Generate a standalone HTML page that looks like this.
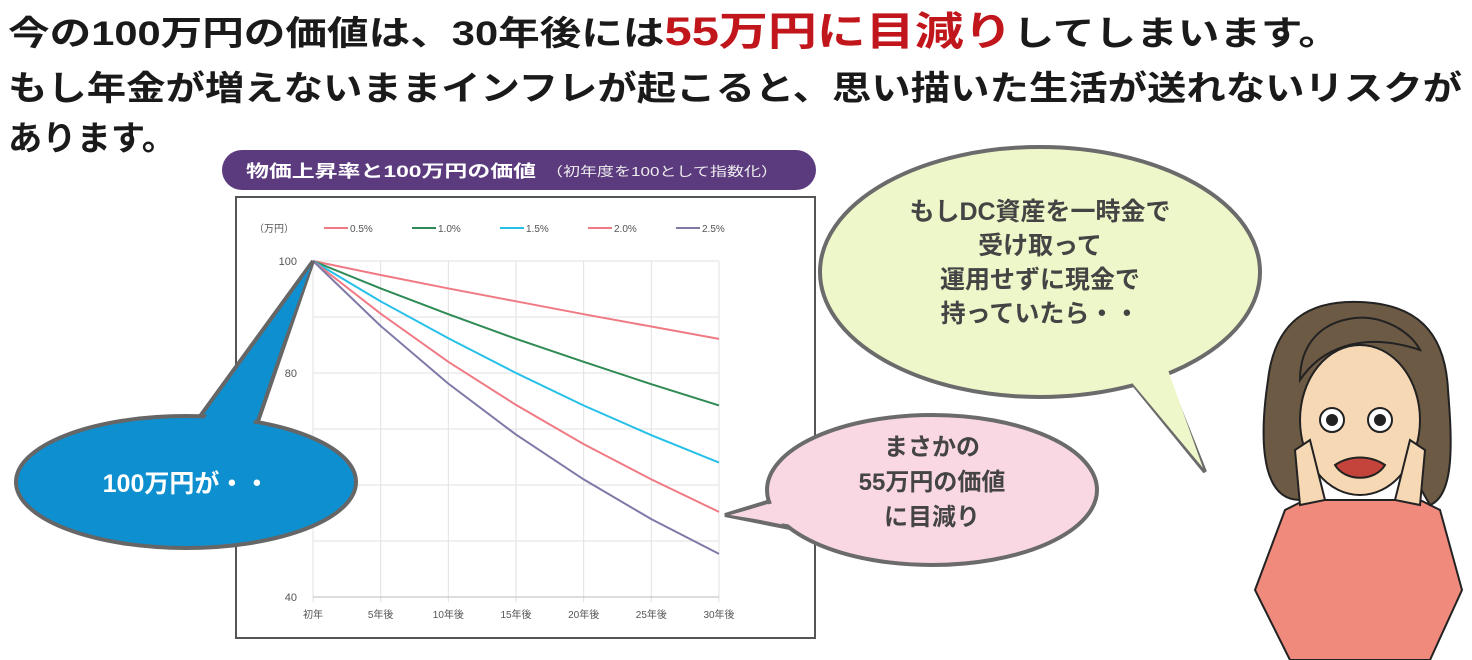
<!DOCTYPE html>
<html><head><meta charset="utf-8">
<style>
html,body{margin:0;padding:0;background:#fff;}
svg{display:block;font-family:"Liberation Sans","Noto Sans CJK JP",sans-serif;}
</style></head>
<body>
<svg id="root" width="1472" height="660" viewBox="0 0 1472 660" xmlns="http://www.w3.org/2000/svg">
  <g font-weight="bold" fill="#1a1a1a">
    <text x="8" y="45" font-size="34" textLength="1332" lengthAdjust="spacingAndGlyphs">今の100万円の価値は、30年後には<tspan fill="#c0161c" font-size="40">55万円に目減り</tspan>してしまいます。</text>
    <text x="8" y="100" font-size="34" textLength="1454" lengthAdjust="spacingAndGlyphs">もし年金が増えないままインフレが起こると、思い描いた生活が送れないリスクが</text>
    <text x="8" y="150" font-size="34" textLength="168" lengthAdjust="spacingAndGlyphs">あります。</text>
  </g>

  <g>
    <rect x="222" y="150" width="594" height="40" rx="20" fill="#5b3a7e"/>
    <text x="246" y="177" font-size="17" font-weight="bold" fill="#fff" textLength="290" lengthAdjust="spacingAndGlyphs">物価上昇率と100万円の価値</text>
    <text x="546" y="176" font-size="13" fill="#eee" textLength="232" lengthAdjust="spacingAndGlyphs">（初年度を100として指数化）</text>
  </g>
  <rect x="236" y="197" width="579" height="441" fill="#fff" stroke="#555" stroke-width="2"/>
  <g id="chart"></g>

  <!-- green bubble -->
  <g>
    <path d="M1130,380 L1205,472 L1165,372 Z" fill="#eef7c9" stroke="#6b6b6b" stroke-width="4"/>
    <ellipse cx="1040" cy="272" rx="220" ry="125" fill="#eef7c9" stroke="#6b6b6b" stroke-width="4"/>
    <path d="M1128,378 L1203,468 L1168,370 Z" fill="#eef7c9"/>
    <g font-size="25" font-weight="bold" fill="#444" text-anchor="middle">
      <text x="1040" y="220">もしDC資産を一時金で</text>
      <text x="1040" y="254">受け取って</text>
      <text x="1040" y="288">運用せずに現金で</text>
      <text x="1040" y="322">持っていたら・・</text>
    </g>
  </g>

  <!-- pink bubble -->
  <g>
    <path d="M790,495 L725,515 L800,530 Z" fill="#f9d8e4" stroke="#6b6b6b" stroke-width="4"/>
    <ellipse cx="932" cy="490" rx="165" ry="75" fill="#f9d8e4" stroke="#6b6b6b" stroke-width="4"/>
    <path d="M795,497 L730,515 L805,527 Z" fill="#f9d8e4"/>
    <g font-size="24" font-weight="bold" fill="#444" text-anchor="middle">
      <text x="932" y="455">まさかの</text>
      <text x="932" y="490">55万円の価値</text>
      <text x="932" y="525">に目減り</text>
    </g>
  </g>

  <!-- blue bubble -->
  <g>
    <path d="M190,430 L313,261 L255,430 Z" fill="#0e8fcf" stroke="#666" stroke-width="4"/>
    <ellipse cx="186" cy="482" rx="170" ry="66" fill="#0e8fcf" stroke="#666" stroke-width="4"/>
    <path d="M195,432 L311,266 L250,432 Z" fill="#0e8fcf"/>
    <text x="186" y="492" font-size="25" font-weight="bold" fill="#fff" text-anchor="middle">100万円が・・</text>
  </g>

  <!-- woman illustration -->
  <g stroke="#222" stroke-width="2">
    <path d="M1290,660 L1255,590 L1285,510 L1305,500 L1420,500 L1440,510 L1462,590 L1430,660 Z" fill="#ef8a7c"/>
    <path d="M1300,500 C1255,500 1262,420 1268,380 C1275,320 1310,300 1360,302 C1415,304 1445,330 1448,390 C1452,440 1455,495 1430,505 L1410,470 L1310,470 Z" fill="#6d5a45"/>
    <ellipse cx="1360" cy="420" rx="60" ry="75" fill="#f7d8b5"/>
    <path d="M1300,380 C1320,350 1360,330 1420,350 C1410,330 1380,315 1355,318 C1320,322 1300,345 1300,380 Z" fill="#6d5a45"/>
    <circle cx="1332" cy="420" r="12" fill="#fff"/><circle cx="1332" cy="420" r="5" fill="#222"/>
    <circle cx="1380" cy="420" r="12" fill="#fff"/><circle cx="1380" cy="420" r="5" fill="#222"/>
    <path d="M1335,465 C1350,455 1370,455 1385,465 C1375,482 1345,482 1335,465 Z" fill="#c4433a"/>
    <path d="M1310,440 L1325,500 L1300,505 L1295,450 Z" fill="#f7d8b5"/>
    <path d="M1410,440 L1395,500 L1420,505 L1425,450 Z" fill="#f7d8b5"/>
  </g>

<script>
const categories = ["初年","5年後","10年後","15年後","20年後","25年後","30年後"];
const seriesNames = ["0.5%","1.0%","1.5%","2.0%","2.5%"];
const seriesColors = ["#f07a84","#2f8a55","#27c0e8","#f07a84","#7e7aa8"];
const s05 = [100,97.5,95.1,92.8,90.5,88.3,86.1];
const s10 = [100,95.1,90.5,86.1,82.0,78.0,74.2];
const s15 = [100,92.8,86.2,80.0,74.2,68.9,64.0];
const s20 = [100,90.6,82.0,74.3,67.3,61.0,55.2];
const s25 = [100,88.4,78.1,69.0,61.0,53.9,47.7];
const yTicks = [40,50,60,70,80,90,100];
const yTickLabels = ["40","","","","80","","100"];

const NS="http://www.w3.org/2000/svg";
const g=document.getElementById('chart');
const X0=313,X1=719,Y0=597,Y1=261,YMIN=40,YMAX=100;
const xs=i=>X0+(X1-X0)*i/(categories.length-1);
const ys=v=>Y0-(v-YMIN)/(YMAX-YMIN)*(Y0-Y1);
function mk(t,a){const e=document.createElementNS(NS,t);for(const k in a)e.setAttribute(k,a[k]);g.appendChild(e);return e;}

yTicks.forEach((v,i)=>{
  const l=mk('line',{x1:X0,x2:X1,y1:ys(v),y2:ys(v),stroke:'#e2e2e2','stroke-width':1});
  
  
  const t=mk('text',{x:X0-16,y:ys(v)+4,'font-size':11,fill:'#555','text-anchor':'end'});
  t.textContent=yTickLabels[i];
  
  
});
categories.forEach((c,i)=>{
  const l=mk('line',{x1:xs(i),x2:xs(i),y1:Y1,y2:Y0+5,stroke:'#e2e2e2','stroke-width':1});
  
  
  const t=mk('text',{x:xs(i),y:Y0+21,'font-size':10,fill:'#555','text-anchor':'middle'});
  t.textContent=c;
  
  
});
const ax=mk('line',{x1:X0,x2:X1,y1:Y0,y2:Y0,stroke:'#bbb'});


const unit=mk('text',{x:254,y:232,'font-size':10,fill:'#555'});
unit.textContent='（万円）';



const all=[s05,s10,s15,s20,s25];
all.forEach((s,k)=>{
  const p=mk('polyline',{points:s.map((v,i)=>xs(i)+','+ys(v)).join(' '),fill:'none',stroke:seriesColors[k],'stroke-width':2});
  
  
  const lx=324+k*88;
  const ll=mk('line',{x1:lx,x2:lx+24,y1:228,y2:228,stroke:seriesColors[k],'stroke-width':2});
  
  
  const lt=mk('text',{x:lx+26,y:232,'font-size':10,fill:'#555'});
  lt.textContent=seriesNames[k];
  
  
});
</script>
</svg>
</body></html>
